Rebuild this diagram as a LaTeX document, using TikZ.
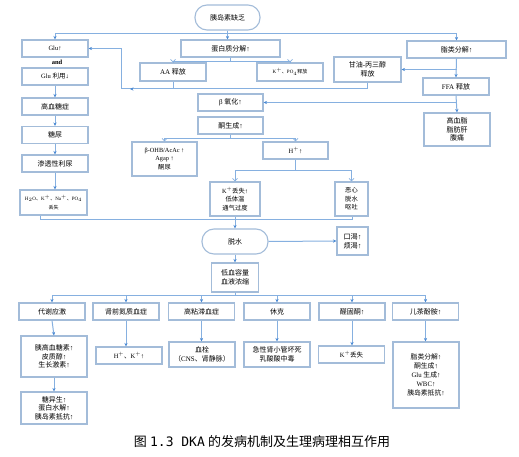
\documentclass[tikz,border=0pt]{standalone}
\usepackage{fontspec}
\setmainfont{Liberation Serif}
\newfontfamily\cjk{Noto Sans CJK SC}
\newfontfamily\capmono{DejaVu Sans Mono}
\usetikzlibrary{arrows.meta}
\makeatletter
\newXeTeXintercharclass\cjkcls
\count@="3000 \loop \XeTeXcharclass\count@=\cjkcls \ifnum\count@<"303F \advance\count@\@ne \repeat
\count@="4E00 \loop \XeTeXcharclass\count@=\cjkcls \ifnum\count@<"9FFF \advance\count@\@ne \repeat
\count@="FF00 \loop \XeTeXcharclass\count@=\cjkcls \ifnum\count@<"FFEF \advance\count@\@ne \repeat
\makeatother
\XeTeXinterchartoks 0 \cjkcls = {\cjk}
\XeTeXinterchartoks 4095 \cjkcls = {\cjk}
\XeTeXinterchartoks \cjkcls 0 = {\rmfamily}
\XeTeXinterchartoks \cjkcls 4095 = {\rmfamily}
\XeTeXinterchartokenstate=1
\definecolor{boxc}{HTML}{A3BCD9}
\definecolor{linec}{HTML}{86B0E0}
\definecolor{tipc}{HTML}{4A8AD4}
\newcommand\fsz[2]{\fontsize{#1}{#2}\selectfont}
\tikzset{
  box/.style={draw=boxc, line width=1.1pt, fill=white, inner sep=0pt, align=center, font=\fsz{7}{8.6}},
  sz/.style 2 args={minimum width=#1pt, minimum height=#2pt},
  pill/.style={rounded corners=12pt},
  line/.style={draw=linec, line width=1pt},
  arr/.style={draw=linec, line width=1pt, -{Stealth[length=3.5pt,width=3.2pt,color=tipc]}},
  barb/.style={draw=linec, line width=1pt, -{Straight Barb[length=2.5pt,width=5pt,line width=0.7pt]}},
}
\begin{document}
\begin{tikzpicture}[x=1pt,y=-1pt]
\useasboundingbox (0,0) rectangle (519,457);
\fill[white] (0,0) rectangle (519,457);
% top
\node[box,sz={65}{25},pill] (ins) at (227.5,17.5) {胰岛素缺乏};
% left column
\node[box,sz={66}{17},font=\fsz{6.5}{8}] (glu) at (55,48.5) {Glu↑};
\node[inner sep=0pt,font=\fsz{6.5}{8}\bfseries] (andt) at (57,62) {and};
\node[box,sz={66}{17},font=\fsz{6.5}{8}] (glu2) at (55,76.5) {Glu 利用↓};
\node[box,sz={66}{17}] (hyg) at (55,106.5) {高血糖症};
\node[box,sz={66}{17}] (tn) at (55,135) {糖尿};
\node[box,sz={66}{17}] (st) at (55,163.5) {渗透性利尿};
\node[box,sz={67}{25},font=\fsz{5}{9}] (h2o) at (53.5,202.5) {H$_2$O、K$^+$、Na$^+$、PO$_4$\\丢失};
% protein
\node[box,sz={99}{17}] (prot) at (230.5,48.5) {蛋白质分解↑};
\node[box,sz={66}{18}] (aa) at (173,72) {AA 释放};
\node[box,sz={66}{18},font=\fsz{5}{6}] (kpo) at (290,72) {K$^+$、PO$_4$释放};
\node[box,sz={67}{25}] (gly) at (367.5,69.5) {甘油-丙三醇\\释放};
% lipid
\node[box,sz={99}{17}] (lip) at (456.5,49.5) {脂类分解↑};
\node[box,sz={66}{17}] (ffa) at (456,86.5) {FFA 释放};
\node[box,sz={66}{33}] (hyl) at (457,129.5) {高血脂\\脂肪肝\\腹痛};
% ketone
\node[box,sz={65}{17}] (beta) at (230.5,102.5) {β 氧化↑};
\node[box,sz={65}{17}] (keto) at (230.5,125.5) {酮生成↑};
\node[box,sz={65}{34},font=\fsz{6.3}{8.5}] (ohb) at (164.5,159) {β-OHB/AcAc ↑\\Agap ↑\\酮尿};
\node[box,sz={65}{17},font=\fsz{6.5}{8}] (hp) at (295.5,150.5) {H$^+$↑};
\node[box,sz={50}{34},font=\fsz{6.3}{8.5}] (kl) at (235,199) {K$^+$丢失↑\\低体温\\通气过度};
\node[box,sz={33}{34},font=\fsz{6.3}{8.5}] (nau) at (351.5,199) {恶心\\脱水\\呕吐};
% dehydration
\node[box,sz={66}{25},pill] (deh) at (235,241.5) {脱水};
\node[box,sz={31}{28},font=\fsz{7.2}{9}] (thi) at (352.5,241) {口渴↑\\烦渴↑};
\node[box,sz={47}{29}] (hv) at (235,277.5) {低血容量\\血液浓缩};
% bottom row
\node[box,sz={66}{17}] (b1) at (52,311.5) {代谢应激};
\node[box,sz={66}{17}] (b2) at (126,311.5) {肾前氮质血症};
\node[box,sz={66}{17}] (b3) at (201.5,311.5) {高粘滞血症};
\node[box,sz={66}{17}] (b4) at (277,311.5) {休克};
\node[box,sz={66}{17}] (b5) at (352,311.5) {醛固酮↑};
\node[box,sz={66}{17}] (b6) at (425.5,311.5) {儿茶酚胺↑};
\node[box,sz={66}{41}] (c1) at (54,356.5) {胰高血糖素↑\\皮质醇↑\\生长激素↑};
\node[box,sz={66}{32}] (c1b) at (54,408) {糖异生↑\\蛋白水解↑\\胰岛素抵抗↑};
\node[box,sz={66}{17},font=\fsz{6.5}{8}] (c2) at (129,355.5) {H$^+$、K$^+$↑};
\node[box,sz={66}{25}] (c3) at (202,354.5) {血栓\\（CNS、肾静脉）};
\node[box,sz={66}{25}] (c4) at (277,354.5) {急性肾小管坏死\\乳酸酸中毒};
\node[box,sz={66}{17},font=\fsz{6.5}{8}] (c5) at (351.5,354.5) {K$^+$丢失};
\node[box,sz={66}{66},font=\fsz{6.8}{9}] (c6) at (426,375) {脂类分解↑\\酮生成↑\\Glu 生成↑\\WBC↑\\胰岛素抵抗↑};
% caption
\node[inner sep=0pt,font=\fsz{13}{15}] (cap) at (262,442) {图 {\capmono 1.3 DKA} 的发病机制及生理病理相互作用};
% helper coordinates
\coordinate (j1) at (121,89);
\coordinate (d1) at (40,219);
\coordinate (d2) at (352,219);
% connectors top
\draw[arr] (ins.south) -- ++(0,3) -| (glu.north);
\draw[arr] (ins.south) -- ++(0,3) -| (lip.north);
\draw[arr] (ins.south) -- (ins.south |- prot.north);
% left column
\draw[arr] (glu2.south) -- (hyg.north);
\draw[arr] (hyg.south) -- (tn.north);
\draw[arr] (tn.south) -- (st.north);
\draw[arr] (st.south) -- (st.south |- h2o.north);
% protein branches
\draw[barb] (prot.south) -- ++(0,4) -| (aa.north);
\draw[barb] (prot.south) -- ++(0,4) -| (kpo.north);
\draw[line] (aa.south) -- (aa.south |- j1);
\draw[arr] (gly.south) |- (j1) |- (glu.east);
\draw[arr] (aa.south |- j1) -- ([xshift=9pt]j1);
% lipid
\draw[arr] (lip.south) -- (ffa.north);
\draw[arr] (lip.south |- gly.east) -- (gly.east);
\draw[arr] (ffa.south) -- (hyl.north);
\draw[arr] (ffa.south |- beta.east) -- (beta.east);
% ketone
\draw[barb] (keto.south) -- ++(0,4) -| (ohb.north);
\draw[barb] (keto.south) -- ++(0,4) -| (hp.north);
\draw[barb] (hp.south) -- ++(0,11) -| (kl.north);
\draw[barb] (hp.south) -- ++(0,11) -| (nau.north);
% to dehydration
\draw[line] (h2o.south -| d1) -- (d1) -- (d2) -- (nau.south -| d2);
\draw[line] (kl.south) -- (kl.south |- d1);
\draw[arr] (deh.north |- d1) -- (deh.north);
\draw[arr] (deh.east) -- (thi.west);
\draw[arr] (deh.south) -- (hv.north);
% bottom fan
\foreach \b in {b1,b2,b3,b4,b5,b6}{
  \draw[arr] (hv.south) -- ++(0,3) -| (\b.north);
}
\draw[arr] (b1.south) -- (c1.north);
\draw[arr] (c1.south) -- (c1b.north);
\draw[arr] (b2.south) -- (b2.south |- c2.north);
\draw[arr] (b3.south) -- (b3.south |- c3.north);
\draw[arr] (b4.south) -- (c4.north);
\draw[arr] (b5.south) -- (b5.south |- c5.north);
\draw[arr] (b6.south) -- (b6.south |- c6.north);
\end{tikzpicture}
\end{document}
